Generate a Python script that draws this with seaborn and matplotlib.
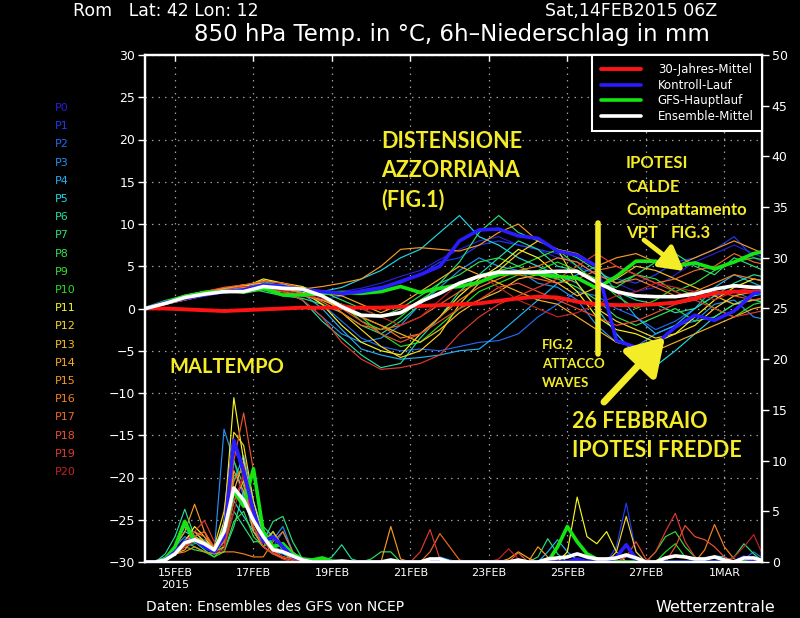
import matplotlib
matplotlib.use("Agg")
import matplotlib.pyplot as plt
from matplotlib.lines import Line2D
import numpy as np
import pandas as pd
import seaborn as sns

# ---------------- data ----------------
# hours since 14FEB2015 06Z
TEMP_HOURS = list(range(0, 385, 12))
PRECIP_HOURS = list(range(0, 385, 6))

MEMBERS = ["P%d" % i for i in range(21)]
MEMBER_COLORS = ["#2a1fd6", "#1d3cf5", "#2468f0", "#2590f0", "#22b0f2", "#22d6e6",
                 "#25dea0", "#28e07a", "#2ee055", "#34e034", "#22e022", "#f5f522",
                 "#f5d522", "#f5c022", "#f5ae22", "#f59a22", "#f58022", "#f06a22",
                 "#ee5030", "#e03a30", "#c42222"]

T_P0 = [0,0.6,1.3,1.9,2.2,2.5,2.9,2.5,2.0,1.9,2.0,2.4,3.0,3.8,4.5,5.8,7.0,8.0,8.5,7.5,7.0,6.0,5.5,4.0,3.0,2.0,2.5,4.0,5.5,6.5,7.5,6.5,5.5]
T_P1 = [0,0.5,1.2,1.8,2.3,2.0,2.5,2.2,1.5,1.0,1.5,2.2,2.6,3.0,4.0,5.5,6.0,7.5,8.0,7.5,7.0,6.5,5.0,4.0,3.5,3.0,4.0,5.5,6.0,7.0,8.5,6.0,5.0]
T_P2 = [0,0.6,1.0,1.5,2.2,2.4,3.0,2.8,2.0,0.5,-1.5,-3.5,-4.5,-5.0,-4.8,-5.0,-4.5,-4.0,-3.8,-3.0,-1.0,0.5,2.0,1.5,0.0,-1.0,-2.5,-1.5,0.0,1.5,2.0,1.0,0.5]
T_P3 = [0,0.7,1.5,2.0,1.8,2.2,2.5,2.0,1.0,-1.0,-3.0,-4.0,-3.5,-2.0,0.5,2.5,4.5,6.0,5.0,4.5,3.0,2.5,1.0,-2.0,-4.0,-4.5,-3.0,-2.0,-1.5,0.5,1.0,-1.0,-1.5]
T_P4 = [0,0.5,1.1,1.7,2.0,2.6,3.2,2.6,1.8,0.0,-2.5,-4.8,-5.5,-6.0,-5.8,-5.5,-5.0,-4.8,-3.0,-1.0,1.0,3.0,4.0,5.0,2.0,-1.0,-3.0,-2.0,0.0,2.5,4.0,3.0,2.0]
T_P5 = [0,0.6,1.3,1.9,2.2,2.5,2.8,2.5,2.2,2.0,2.5,3.5,4.5,6.0,7.0,9.0,11.0,8.5,7.5,6.0,5.0,4.0,3.0,0.0,-3.0,-5.5,-6.8,-5.0,-3.0,-1.0,0.5,1.5,2.0]
T_P6 = [0,0.6,1.2,1.8,2.4,2.8,3.0,2.2,1.0,-1.5,-3.5,-5.5,-7.0,-6.5,-3.5,-1.0,2.0,4.0,6.0,8.0,7.0,5.0,4.5,3.0,2.0,1.0,0.5,-0.5,0.0,1.5,3.0,4.0,3.5]
T_P7 = [0,0.8,1.6,2.0,2.3,2.5,2.0,1.5,1.2,0.5,-0.5,-2.0,-3.0,-1.5,0.5,3.0,5.5,9.0,11.0,9.0,8.0,7.0,6.0,4.5,3.0,4.0,5.5,6.5,5.0,4.0,6.0,5.0,4.0]
T_P8 = [0,0.5,1.0,1.6,2.0,2.2,2.6,2.8,2.5,2.0,1.0,0.0,-1.0,0.0,1.5,3.0,4.0,5.5,6.0,5.0,4.0,3.5,2.5,1.0,-1.0,-2.0,-1.0,0.0,-1.5,-1.0,0.5,1.0,0.5]
T_P9 = [0,0.7,1.4,1.9,2.1,1.8,2.2,2.0,1.6,1.5,0.5,-1.5,-2.5,-1.0,1.0,2.5,3.0,4.0,4.5,5.0,6.0,7.0,5.0,3.0,2.5,4.0,3.5,2.0,3.0,4.5,5.5,6.0,5.5]
T_P10 = [0,0.6,1.2,1.7,2.0,2.4,2.9,2.6,2.2,1.5,0.0,-1.0,-3.0,-4.5,-4.0,-2.0,0.0,2.0,3.0,4.0,4.5,5.5,4.5,3.5,1.5,0.0,1.0,2.5,1.5,0.0,-1.0,0.5,1.0]
T_P11 = [0,0.6,1.3,1.8,2.2,2.5,3.5,3.0,2.0,0.5,-2.0,-4.0,-5.0,-5.5,-3.0,-1.0,1.5,3.5,5.0,7.0,6.0,4.0,2.0,-1.0,-2.5,-3.0,-4.0,-3.0,-1.0,1.0,2.5,3.5,3.0]
T_P12 = [0,0.5,1.1,1.6,2.0,2.7,3.3,3.0,2.6,1.5,-0.5,-2.5,-4.5,-5.8,-5.0,-3.0,0.5,3.0,4.5,6.5,8.0,7.0,3.0,0.0,-1.5,-2.5,-3.5,-3.0,-2.0,0.0,1.5,2.0,2.5]
T_P13 = [0,0.7,1.3,1.8,2.3,2.8,3.0,2.4,1.8,1.0,0.0,-1.0,-2.0,-3.0,-4.0,-2.5,-0.5,1.0,2.0,3.5,4.0,3.0,1.5,2.5,3.5,5.0,4.5,3.5,2.5,1.5,0.5,1.0,1.5]
T_P14 = [0,0.6,1.2,1.7,2.0,2.3,2.6,2.2,2.0,1.8,1.5,0.5,-0.5,0.5,2.0,3.5,5.0,4.0,3.0,2.0,1.0,0.5,-1.0,-2.5,-4.0,-4.5,-5.0,-4.0,-3.0,-2.0,-1.0,0.0,0.5]
T_P15 = [0,0.8,1.5,2.0,2.4,2.5,2.8,2.5,2.3,2.6,3.0,3.5,5.0,7.0,7.2,7.0,6.8,7.5,9.0,10.0,8.0,7.0,6.5,5.0,6.0,6.5,5.5,5.0,6.0,7.0,8.0,7.0,6.0]
T_P16 = [0,0.5,1.0,1.5,1.9,2.2,2.4,2.0,1.5,1.0,0.5,-1.0,-2.0,-3.5,-3.0,-1.0,1.0,2.5,3.5,4.5,5.0,6.0,5.5,4.0,3.0,3.5,2.5,1.5,2.0,3.0,4.0,3.5,3.0]
T_P17 = [0,0.6,1.3,1.8,2.1,2.3,2.7,2.3,1.8,0.8,-0.5,-2.0,-2.5,-2.0,-1.0,0.5,2.0,3.0,4.0,4.0,3.5,3.0,3.5,4.5,5.0,4.0,3.0,3.5,4.5,5.0,6.5,5.5,5.0]
T_P18 = [0,0.7,1.4,2.0,2.5,2.8,3.2,3.0,2.4,1.5,0.0,-1.5,-3.0,-4.0,-3.0,-1.5,0.0,1.0,2.5,3.0,2.0,1.0,0.0,-1.0,-2.0,-1.5,-0.5,0.5,1.0,2.0,1.5,1.0,1.5]
T_P19 = [0,0.6,1.2,1.7,2.2,2.6,2.6,2.0,1.0,-1.0,-4.0,-6.0,-7.2,-7.0,-6.5,-5.5,-3.0,-1.0,0.5,1.5,2.5,3.5,5.0,6.5,5.0,4.0,3.0,2.0,1.0,0.0,-1.0,-0.5,0.0]
T_P20 = [0,0.5,1.0,1.6,2.0,2.3,2.5,2.1,1.6,1.2,0.5,0.0,-1.0,-2.0,-1.0,1.0,3.0,4.0,2.5,1.0,0.0,-1.0,-0.5,0.5,1.5,2.0,3.0,2.5,2.0,1.0,2.0,2.5,2.0]

T_CLIM = [0,0,-0.1,-0.2,-0.3,-0.2,-0.1,0,0.1,0.1,0.1,0.1,0.1,0.2,0.3,0.4,0.5,0.6,0.9,1.2,1.4,1.3,0.8,0.5,0.4,0.4,0.5,0.7,1.2,1.8,2.0,2.0,2.0]
T_MEAN = [0,0.6,1.3,1.7,2.0,2.0,2.6,2.4,2.3,1.5,0.2,-0.8,-0.9,-0.5,0.8,1.8,3.0,3.8,4.3,4.3,4.3,4.4,4.4,3.1,2.0,1.5,1.4,1.4,1.7,2.3,2.7,2.5,2.5]
T_CTRL = [0,0.7,1.2,1.6,2.0,2.2,2.8,2.6,2.2,2.0,1.8,2.0,2.4,3.2,4.0,5.0,8.0,9.3,9.4,8.6,8.3,6.8,6.3,5.0,-3.8,-4.6,-4.2,-2.2,-0.8,-1.4,-0.3,1.8,2.0]
T_GFS = [0,0.8,1.4,1.9,2.0,2.2,2.4,1.6,1.6,1.8,1.9,1.8,2.0,2.6,1.9,2.4,2.6,3.1,4.0,4.3,4.1,3.8,3.6,2.4,3.8,5.6,5.6,5.0,5.4,4.7,5.5,6.5,7.0]

# 6h precipitation (mm), first 17 steps + remaining 48 steps
R_P0 = [0,0,0.2,1.0,2.0,2.5,1.5,1.0,2.0,9.0,6.5,3.5,2.0,1.5,1.2,0.5,0.2] + [0.2] + [0]*25 + [0.5,0.8,0.3] + [0]*3 + [0.5,0.2] + [0]*14
R_P1 = [0,0,0.3,1.2,1.5,2.0,1.8,1.2,3.0,12.0,8.0,5.0,3.0,2.5,1.5,0.5,0.3] + [0.3] + [0]*30 + [1.5,5.8,1.0] + [0]*14
R_P2 = [0,0,0.2,0.8,1.5,1.8,2.2,1.5,2.5,11.0,9.5,6.0,2.5,1.5,3.0,1.0,0.3] + [0]*44 + [0.3,1.0,0.3] + [0]
R_P3 = [0,0,0.4,1.5,2.5,2.0,1.5,1.0,13.1,10.0,6.5,3.0,1.5,2.2,3.5,1.0,0.2] + [0]*12 + [0.2,0.5,0.2] + [0]*33
R_P4 = [0,0,0.3,1.0,2.2,3.0,2.0,1.5,3.5,8.0,10.5,6.0,3.0,1.0,0.8,0.3,0] + [0]*24 + [1.0,2.2,1.0,0.2] + [0]*20
R_P5 = [0,0,0.5,1.5,3.0,2.5,1.8,1.0,2.5,6.0,4.5,3.0,2.0,1.5,1.0,0.5,0.2] + [0.3,0.2] + [0]*39 + [0.6,0.5] + [0]*5
R_P6 = [0,0,0.8,2.5,5.2,2.5,1.5,0.8,1.0,3.5,7.0,4.0,3.5,2.5,1.5,0.5,0] + [0,0,0.5,1.7,0.3] + [0]*43
R_P7 = [0,0,0.3,1.5,3.5,2.0,1.2,0.5,1.5,5.0,3.5,2.0,2.0,4.0,4.5,2.0,0.3] + [0]*23 + [0.5,2.3,0.8] + [0]*17 + [0.5,1.8,0.8] + [0,0]
R_P8 = [0,0,0.2,1.0,2.0,1.5,1.0,0.8,2.0,10.0,7.5,4.0,2.0,1.0,0.5,0.2,0] + [0]*6 + [0.3,1.0,1.0] + [0]*39
R_P9 = [0,0,0.3,0.8,1.5,1.2,1.0,0.5,1.0,4.0,5.0,2.5,1.5,3.0,1.0,0.3,0] + [0]*35 + [1.0,2.5,3.0,1.5,0.5] + [0]*8
R_P10 = [0,0,0.2,1.0,2.0,2.5,2.0,1.0,3.0,8.5,9.0,5.0,2.5,1.5,1.0,0.3,0] + [0]*36 + [1.0,1.8,0.5] + [0]*9
R_P11 = [0,0,0.3,1.2,2.0,3.5,2.5,1.0,4.0,16.2,10.0,5.0,2.0,1.0,0.5,0.2,0] + [0]*26 + [1.0,6.4,2.5,1.8,3.0,1.0] + [0]*16
R_P12 = [0,0,0.2,1.0,1.8,3.0,2.0,1.5,5.0,12.8,11.5,6.0,2.5,1.0,0.5,0.3,0] + [0]*31 + [1.0,4.5,1.0] + [0]*14
R_P13 = [0,0,0.3,1.0,1.5,2.5,3.0,1.2,2.0,7.0,10.0,5.0,2.0,3.0,1.5,0.5,0] + [0]*48
R_P14 = [0,0,0.2,0.8,1.2,2.5,2.0,1.0,1.5,6.0,8.0,3.5,1.5,0.8,0.5,0.2,0] + [0]*20 + [0.3,1.0,0.4] + [0]*25
R_P15 = [0,0,0.4,1.5,3.0,5.7,3.0,1.0,2.0,9.0,7.0,3.0,1.5,0.8,0.4,0.2,0] + [0]*8 + [3.5,0.3] + [0]*13 + [1.5,0.5] + [0]*23
R_P16 = [0,0,0.2,0.8,1.0,1.5,1.0,0.8,1.0,1.0,0.8,0.5,0.5,2.0,3.0,1.0,0.2] + [0]*40 + [1.2,3.7,1.5,0.3] + [0]*4
R_P17 = [0,0,0.3,1.0,2.0,3.0,2.5,1.5,2.5,8.0,9.5,4.0,2.0,1.5,1.0,0.3,0] + [0]*12 + [1.0,2.8,1.5,0.2] + [0]*32
R_P18 = [0,0,0.2,0.8,1.5,2.5,3.0,1.5,2.0,10.0,14.7,9.0,3.0,1.0,0.5,0.2,0] + [0]*21 + [0.9] + [0]*10 + [0.5,2.0,0.3] + [0,0] + [1.5,3.6,2.5,2.2,1.5,0.5] + [0]*5
R_P19 = [0,0,0.3,1.0,2.0,3.0,4.1,2.0,1.5,6.0,8.5,3.5,1.5,0.8,0.3,0,0] + [0]*11 + [1.0,3.2,0.3] + [0]*21 + [1.0,3.0,4.8,2.0,0.5] + [0]*8
R_P20 = [0,0,0.2,0.8,1.5,2.0,1.5,1.0,1.2,5.0,9.0,4.5,2.0,1.0,0.5,0.2,0] + [0]*19 + [0.3,1.3,0.3] + [0]*21 + [0.5,1.5,2.7,0.5] + [0]

R_CTRL = [0,0,0.2,1.0,2.0,2.2,1.5,1.0,2.5,12.0,9.0,5.0,2.0,2.5,1.5,0.5,0.2] + [0]*27 + [0.3] + [0]*3 + [0.5,1.7,0.3] + [0]*10 + [0.5] + [0]*3
R_GFS = [0,0,0.3,1.5,4.0,2.0,1.8,1.2,3.0,7.0,5.5,9.2,3.0,1.5,1.8,0.8,0.3] + [0.2,0.4,0.1] + [0]*22 + [1.5,3.5,2.0,0.8,0.3] + [0]*18
R_MEAN = [0,0,0.2,0.8,1.9,2.2,1.8,1.2,3.0,7.3,6.1,4.1,2.5,1.2,1.0,0.6,0.2] + [0,0,0,0.1,0,0,0,0,0.2,0,0,0,0.3,0.3,0,0,0,0,0,0,0,0.2,0,0,0.3,0.4,0.5,0.8,0.5,0.3,0.3,0.4,0.7,0.4,0,0,0.4,0.6,0.5,0.3,0.3,0.5,0.2,0,0.4,0.4,0.1,0]

TICK_DAYS = [0, 2, 4, 6, 8, 10, 12, 14]
TICK_LABELS = ["15FEB\n2015", "17FEB", "19FEB", "21FEB", "23FEB", "25FEB", "27FEB", "1MAR"]

T_MEMBERS = [T_P0, T_P1, T_P2, T_P3, T_P4, T_P5, T_P6, T_P7, T_P8, T_P9, T_P10,
             T_P11, T_P12, T_P13, T_P14, T_P15, T_P16, T_P17, T_P18, T_P19, T_P20]
R_MEMBERS = [R_P0, R_P1, R_P2, R_P3, R_P4, R_P5, R_P6, R_P7, R_P8, R_P9, R_P10,
             R_P11, R_P12, R_P13, R_P14, R_P15, R_P16, R_P17, R_P18, R_P19, R_P20]

# ---------------- helpers ----------------
T_DAYS = [(h - 18) / 24 for h in TEMP_HOURS]
R_DAYS = [(h - 18) / 24 for h in PRECIP_HOURS]


def fit(vals, n):
    vals = list(vals)[:n]
    return vals + [0] * (n - len(vals))


def long_df(series_list, days):
    rows = []
    for name, s in zip(MEMBERS, series_list):
        for d, v in zip(days, fit(s, len(days))):
            rows.append((name, d, v))
    return pd.DataFrame(rows, columns=["member", "day", "value"])


df_t = long_df(T_MEMBERS, T_DAYS)
df_r = long_df(R_MEMBERS, R_DAYS)
pal = dict(zip(MEMBERS, MEMBER_COLORS))

# ---------------- style ----------------
sns.set_style("dark")
plt.rcParams.update({
    "font.family": ["DejaVu Sans"],
    "figure.facecolor": "black",
    "axes.facecolor": "black",
    "axes.edgecolor": "white",
    "text.color": "white",
    "xtick.color": "white",
    "ytick.color": "white",
})

W, H = 800, 618
fig = plt.figure(figsize=(8, 6.18), dpi=100, facecolor="black")
ax = fig.add_axes([145 / W, 1 - 562 / H, (762 - 145) / W, (562 - 55) / H])
ax.set_facecolor("black")

RED, BLUE, GREEN, WHITE = "#ff1414", "#2a1cff", "#14e614", "#ffffff"
YEL = "#f5ec28"

# temperature
sns.lineplot(data=df_t, x="day", y="value", hue="member", palette=pal,
             linewidth=0.85, legend=False, estimator=None, ax=ax)
sns.lineplot(x=T_DAYS, y=T_CLIM, color=RED, linewidth=2.8, ax=ax, estimator=None)
h_clim = ax.get_lines()[-1]
sns.lineplot(x=T_DAYS, y=T_GFS, color=GREEN, linewidth=2.6, ax=ax, estimator=None)
h_gfs = ax.get_lines()[-1]
sns.lineplot(x=T_DAYS, y=T_CTRL, color=BLUE, linewidth=2.6, ax=ax, estimator=None)
h_ctrl = ax.get_lines()[-1]
sns.lineplot(x=T_DAYS, y=T_MEAN, color=WHITE, linewidth=2.6, ax=ax, estimator=None)
h_mean = ax.get_lines()[-1]

ax.set_xlim(-0.764, 14.96)
ax.set_ylim(-30, 30)
ax.set_yticks(range(-30, 31, 5))
ax.set_xticks(TICK_DAYS)
ax.set_xticklabels(TICK_LABELS, linespacing=1.25)
ax.set_xlabel("")
ax.set_ylabel("")
ax.grid(True, color="#9a9a9a", linestyle=(0, (1.2, 4)), linewidth=0.9)
ax.tick_params(axis="y", direction="out", length=5, width=1, colors="white", labelsize=9, pad=2)
ax.tick_params(axis="x", direction="in", length=4, width=1, colors="white", labelsize=8,
               top=True, pad=4)
for sp in ax.spines.values():
    sp.set_color("white")
    sp.set_linewidth(1.6)

# precipitation
ax2 = ax.twinx()
sns.lineplot(data=df_r, x="day", y="value", hue="member", palette=pal,
             linewidth=0.85, legend=False, estimator=None, ax=ax2)
sns.lineplot(x=R_DAYS, y=R_GFS, color=GREEN, linewidth=2.6, ax=ax2, estimator=None)
sns.lineplot(x=R_DAYS, y=R_CTRL, color=BLUE, linewidth=2.6, ax=ax2, estimator=None)
sns.lineplot(x=R_DAYS, y=R_MEAN, color=WHITE, linewidth=2.6, ax=ax2, estimator=None)
ax2.set_ylim(0, 50)
ax2.set_xlim(-0.764, 14.96)
ax2.set_yticks(range(0, 51, 5))
ax2.set_ylabel("")
ax2.grid(False)
ax2.tick_params(axis="y", direction="out", length=5, width=1, colors="white", labelsize=9, pad=2)
for sp in ax2.spines.values():
    sp.set_color("white")
    sp.set_linewidth(1.6)

leg = ax2.legend([h_clim, h_ctrl, h_gfs, h_mean],
                 ["30-Jahres-Mittel", "Kontroll-Lauf", "GFS-Hauptlauf", "Ensemble-Mittel"],
                 loc="upper right", bbox_to_anchor=(1, 1), borderaxespad=0,
                 frameon=True, facecolor="black", edgecolor="white", fancybox=False,
                 fontsize=8.5, labelcolor="white", handlelength=3.4, handletextpad=1.45,
                 labelspacing=0.22, borderpad=0.7, framealpha=1)
leg.get_frame().set_linewidth(1.5)

# ---------------- texts ----------------
def ftext(x, y, s, **kw):
    fig.text(x / W, 1 - y / H, s, **kw)

ftext(73, 11, "Rom   Lat: 42 Lon: 12", fontsize=12.5, va="center", ha="left", color="white")
ftext(545, 11, "Sat,14FEB2015 06Z", fontsize=12.5, va="center", ha="left", color="white")
ftext(452, 34, "850 hPa Temp. in °C, 6h\u2013Niederschlag in mm", fontsize=16.5,
      va="center", ha="center", color="white")
ftext(146, 607, "Daten: Ensembles des GFS von NCEP", fontsize=10, va="center", ha="left", color="white")
ftext(775, 607, "Wetterzentrale", fontsize=11.5, va="center", ha="right", color="white")

for i, (name, col) in enumerate(zip(MEMBERS, MEMBER_COLORS)):
    ftext(55, 108 + 18.2 * i, name, fontsize=8, va="center", ha="left", color=col)

ann = dict(color=YEL, fontfamily="Lato", fontweight="bold", ha="left", va="baseline")
for s, y in [("DISTENSIONE", 148), ("AZZORRIANA", 177), ("(FIG.1)", 206)]:
    ftext(381, y, s, fontsize=15.5, **ann)
for s, y in [("IPOTESI", 168), ("CALDE", 192), ("Compattamento", 215), ("VPT", 238)]:
    ftext(626, y, s, fontsize=12, **ann)
ftext(671, 238, "FIG.3", fontsize=12, **ann)
for s, y in [("FIG.2", 349), ("ATTACCO", 368), ("WAVES", 387)]:
    ftext(542, y, s, fontsize=9.5, **ann)
ftext(169, 373, "MALTEMPO", fontsize=14.5, **ann)
ftext(572, 428, "26 FEBBRAIO", fontsize=15.5, **ann)
ftext(572, 457, "IPOTESI FREDDE", fontsize=15.5, **ann)

fig.add_artist(Line2D([598 / W, 598 / W], [1 - 223 / H, 1 - 354 / H], color=YEL, linewidth=4))
ax2.annotate("", xy=(684 / W, 1 - 271 / H), xytext=(644 / W, 1 - 240 / H),
             xycoords="figure fraction", textcoords="figure fraction",
             arrowprops=dict(arrowstyle="-|>,head_width=0.45,head_length=0.8",
                             color=YEL, linewidth=3.5, mutation_scale=18,
                             shrinkA=0, shrinkB=0))
ax2.annotate("", xy=(665 / W, 1 - 337 / H), xytext=(604 / W, 1 - 402 / H),
             xycoords="figure fraction", textcoords="figure fraction",
             arrowprops=dict(arrowstyle="-|>,head_width=0.55,head_length=0.9",
                             color=YEL, linewidth=5, mutation_scale=24,
                             shrinkA=0, shrinkB=0))

fig.savefig("out.png", dpi=100, facecolor="black")
